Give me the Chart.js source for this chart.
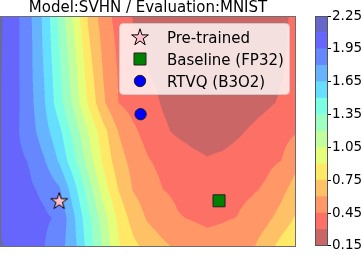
<!DOCTYPE html>
<html>
<head>
<meta charset="utf-8">
<script src="https://cdn.jsdelivr.net/npm/chart.js@4.4.1/dist/chart.umd.min.js"></script>
<style>
  html, body { margin: 0; padding: 0; background: #fff; }
  #wrap { position: relative; width: 363px; height: 255px; overflow: hidden; }
  .box { position: absolute; top: 0; height: 255px; }
</style>
</head>
<body>
<div id="wrap">
  <div class="box" style="left:0;width:297px"><canvas id="landscape"></canvas></div>
  <div class="box" style="left:312px;width:51px"><canvas id="colorbar"></canvas></div>
</div>
<script>
const chartTitle = 'Model:SVHN / Evaluation:MNIST';

// contour levels and colorbar ticks
const levels = [0.15, 0.30, 0.45, 0.60, 0.75, 0.90, 1.05, 1.20, 1.35, 1.50, 1.65, 1.80, 1.95, 2.10, 2.25];
const cbarTicks = [0.15, 0.45, 0.75, 1.05, 1.35, 1.65, 1.95, 2.25];

// loss surface sampled on a grid (rows top -> bottom)
const gridX = [-1, -0.9, -0.8, -0.7, -0.6, -0.5, -0.4, -0.3, -0.2, -0.1, 0, 0.1, 0.2, 0.3, 0.4, 0.5, 0.6, 0.7, 0.8, 0.9, 1];
const gridY = [1, 0.75, 0.5, 0.25, 0, -0.25, -0.5, -0.75, -1];
const lossGrid = [
  [2.13, 2.00, 1.83, 1.61, 1.31, 1.01, 0.72, 0.52, 0.39, 0.29, 0.25, 0.22, 0.21, 0.20, 0.19, 0.19, 0.20, 0.215, 0.24, 0.28, 0.32],
  [2.12, 2.00, 1.84, 1.62, 1.35, 1.07, 0.77, 0.56, 0.42, 0.33, 0.28, 0.24, 0.217, 0.207, 0.197, 0.19, 0.20, 0.21, 0.24, 0.28, 0.33],
  [2.11, 2.00, 1.84, 1.64, 1.38, 1.12, 0.82, 0.59, 0.44, 0.37, 0.304, 0.27, 0.235, 0.221, 0.21, 0.20, 0.205, 0.215, 0.241, 0.291, 0.34],
  [2.105, 2.00, 1.85, 1.66, 1.41, 1.16, 0.87, 0.62, 0.448, 0.39, 0.34, 0.29, 0.26, 0.238, 0.226, 0.224, 0.232, 0.244, 0.276, 0.315, 0.37],
  [2.08, 1.98, 1.87, 1.71, 1.54, 1.29, 1.04, 0.80, 0.597, 0.48, 0.39, 0.32, 0.28, 0.253, 0.236, 0.236, 0.277, 0.318, 0.359, 0.399, 0.44],
  [2.04, 1.99, 1.94, 1.81, 1.63, 1.39, 1.13, 0.86, 0.66, 0.55, 0.46, 0.41, 0.37, 0.335, 0.31, 0.33, 0.356, 0.385, 0.417, 0.448, 0.56],
  [2.02, 1.99, 1.97, 1.92, 1.82, 1.56, 1.27, 0.98, 0.745, 0.59, 0.52, 0.45, 0.423, 0.398, 0.383, 0.39, 0.403, 0.43, 0.47, 0.559, 0.66],
  [2.07, 2.04, 2.00, 1.97, 1.93, 1.67, 1.38, 1.12, 0.86, 0.69, 0.58, 0.52, 0.46, 0.44, 0.42, 0.435, 0.453, 0.51, 0.567, 0.65, 0.77],
  [2.12, 2.06, 2.00, 1.95, 1.86, 1.70, 1.43, 1.17, 0.92, 0.79, 0.70, 0.63, 0.58, 0.54, 0.51, 0.52, 0.553, 0.582, 0.674, 0.813, 0.91]
];

// model points
const pretrained = [{ x: -0.6, y: -0.6 }];
const baseline = [{ x: 0.48, y: -0.6 }];
const rtvq = [{ x: -0.05, y: 0.15 }];

Chart.defaults.font.family = "'DejaVu Sans'";
Chart.defaults.color = '#000';

// jet_r at alpha 0.6 over white, sampled at band midpoints
function jet(u) {
  const seg = pts => {
    for (let i = 1; i < pts.length; i++) {
      if (u <= pts[i][0]) {
        const [x0, y0] = pts[i - 1], [x1, y1] = pts[i];
        return y0 + (y1 - y0) * (u - x0) / (x1 - x0);
      }
    }
    return pts[pts.length - 1][1];
  };
  return [
    seg([[0, 0], [0.35, 0], [0.66, 1], [0.89, 1], [1, 0.5]]),
    seg([[0, 0], [0.125, 0], [0.375, 1], [0.64, 1], [0.91, 0], [1, 0]]),
    seg([[0, 0.5], [0.11, 1], [0.34, 1], [0.65, 0], [1, 0]])
  ];
}
const nBands = levels.length - 1;
const bandRgb = [];
for (let i = 0; i < nBands; i++) {
  bandRgb.push(jet(1 - (i + 0.5) / nBands).map(v => Math.round(255 * (0.6 * v + 0.4))));
}
const bandCss = bandRgb.map(c => `rgb(${c[0]},${c[1]},${c[2]})`);

function lossAt(x, y) {
  let i = 0;
  while (i < gridX.length - 2 && x > gridX[i + 1]) i++;
  let j = 0;
  while (j < gridY.length - 2 && y < gridY[j + 1]) j++;
  const tx = (x - gridX[i]) / (gridX[i + 1] - gridX[i]);
  const ty = (y - gridY[j]) / (gridY[j + 1] - gridY[j]);
  const top = lossGrid[j][i] * (1 - tx) + lossGrid[j][i + 1] * tx;
  const bot = lossGrid[j + 1][i] * (1 - tx) + lossGrid[j + 1][i + 1] * tx;
  return top * (1 - ty) + bot * ty;
}

function bandOf(v) {
  let k = 0;
  while (k < nBands - 1 && v >= levels[k + 1]) k++;
  return k;
}

const contourFill = {
  id: 'contourFill',
  beforeDatasetsDraw(chart) {
    const { ctx, chartArea: a, scales: { x, y } } = chart;
    const w = Math.round(a.right - a.left), h = Math.round(a.bottom - a.top);
    const off = document.createElement('canvas');
    off.width = w; off.height = h;
    const octx = off.getContext('2d');
    const img = octx.createImageData(w, h);
    const S = 3;
    for (let py = 0; py < h; py++) {
      for (let px = 0; px < w; px++) {
        let r = 0, g = 0, b = 0;
        for (let sy = 0; sy < S; sy++) {
          const yv = y.getValueForPixel(a.top + py + (sy + 0.5) / S);
          for (let sx = 0; sx < S; sx++) {
            const xv = x.getValueForPixel(a.left + px + (sx + 0.5) / S);
            const c = bandRgb[bandOf(lossAt(xv, yv))];
            r += c[0]; g += c[1]; b += c[2];
          }
        }
        const o = (py * w + px) * 4;
        img.data[o] = r / (S * S);
        img.data[o + 1] = g / (S * S);
        img.data[o + 2] = b / (S * S);
        img.data[o + 3] = 255;
      }
    }
    octx.putImageData(img, 0, 0);
    ctx.drawImage(off, a.left, a.top);
  },
  afterDraw(chart) {
    const { ctx, chartArea: a } = chart;
    ctx.save();
    ctx.strokeStyle = '#6e6e6e';
    ctx.lineWidth = 1;
    ctx.strokeRect(a.left + 0.5, a.top + 0.5, a.right - a.left - 1, a.bottom - a.top - 1);
    ctx.restore();
  }
};

const insetLegend = {
  id: 'insetLegend',
  afterDatasetsDraw(chart) {
    const { ctx, chartArea: a } = chart;
    const L = a.right - 177, T = a.top + 7, W = 170, H = 71;
    ctx.save();
    ctx.beginPath();
    ctx.roundRect(L + 0.5, T + 0.5, W, H, 4);
    ctx.fillStyle = 'rgba(255,255,255,0.8)';
    ctx.fill();
    ctx.strokeStyle = 'rgba(204,204,204,0.8)';
    ctx.lineWidth = 1;
    ctx.stroke();
    chart.data.datasets.forEach((ds, i) => {
      const cy = T + 14 + i * 22;
      ctx.fillStyle = ds.backgroundColor;
      ctx.strokeStyle = ds.borderColor;
      ctx.lineWidth = ds.borderWidth;
      Chart.helpers.drawPoint(ctx, { pointStyle: ds.pointStyle, radius: ds.pointRadius, rotation: 0, borderWidth: ds.borderWidth }, L + 21, cy);
      ctx.fillStyle = '#000';
      ctx.font = "15px 'DejaVu Sans'";
      ctx.textBaseline = 'alphabetic';
      ctx.fillText(ds.label, L + 48, cy + 5.5);
    });
    ctx.restore();
  }
};

// matplotlib-like '*' marker
function starMarker(R, fill) {
  const c = document.createElement('canvas');
  c.width = 22; c.height = 22;
  const g = c.getContext('2d');
  g.beginPath();
  for (let k = 0; k < 10; k++) {
    const rr = k % 2 ? R * 0.382 : R;
    const ang = -Math.PI / 2 + k * Math.PI / 5;
    const px = 11 + rr * Math.cos(ang), py = 11.6 + rr * Math.sin(ang);
    k ? g.lineTo(px, py) : g.moveTo(px, py);
  }
  g.closePath();
  g.fillStyle = fill;
  g.fill();
  g.strokeStyle = '#000';
  g.lineWidth = 1;
  g.stroke();
  return c;
}

new Chart(document.getElementById('landscape'), {
  type: 'scatter',
  data: {
    datasets: [
      { label: 'Pre-trained', data: pretrained, pointStyle: starMarker(8.8, '#ffc0cb'), pointRadius: 9, backgroundColor: '#ffc0cb', borderColor: '#000', borderWidth: 1 },
      { label: 'Baseline (FP32)', data: baseline, pointStyle: 'rect', pointRadius: 8.5, backgroundColor: '#008000', borderColor: '#222', borderWidth: 1 },
      { label: 'RTVQ (B3O2)', data: rtvq, pointStyle: 'circle', pointRadius: 5.7, backgroundColor: '#0000ff', borderColor: '#222', borderWidth: 1 }
    ]
  },
  options: {
    animation: false,
    responsive: true,
    maintainAspectRatio: false,
    layout: { autoPadding: false, padding: { left: 0, right: 1, top: 0, bottom: 8 } },
    scales: {
      x: { type: 'linear', min: -1, max: 1, display: false },
      y: { type: 'linear', min: -1, max: 1, display: false }
    },
    plugins: {
      legend: { display: false },
      tooltip: { enabled: false },
      title: {
        display: true,
        text: chartTitle,
        color: '#000',
        font: { size: 15, weight: 'normal', lineHeight: '15px' },
        padding: { top: 1, bottom: 0 }
      }
    }
  },
  plugins: [contourFill, insetLegend]
});

const cbarOutline = {
  id: 'cbarOutline',
  afterDatasetsDraw(chart) {
    const { ctx, chartArea: a } = chart;
    ctx.save();
    ctx.strokeStyle = '#555';
    ctx.lineWidth = 1;
    ctx.strokeRect(Math.round(a.left) + 0.5, Math.round(a.top) + 0.5, Math.round(a.right - a.left) - 1, Math.round(a.bottom - a.top) - 1);
    ctx.restore();
  }
};

new Chart(document.getElementById('colorbar'), {
  type: 'bar',
  data: {
    labels: [''],
    datasets: bandCss.map((col, i) => ({
      data: [[levels[i], levels[i + 1]]],
      backgroundColor: col,
      borderWidth: 0,
      grouped: false,
      barPercentage: 1,
      categoryPercentage: 1
    }))
  },
  options: {
    animation: false,
    responsive: true,
    maintainAspectRatio: false,
    layout: { autoPadding: false, padding: { left: 3, right: 0, top: 16, bottom: 8 } },
    plugins: { legend: { display: false }, tooltip: { enabled: false } },
    scales: {
      x: { display: false },
      y: {
        position: 'right',
        min: levels[0],
        max: levels[levels.length - 1],
        afterBuildTicks: s => { s.ticks = cbarTicks.map(v => ({ value: v })); },
        afterFit: s => { s.width = 35; },
        ticks: { color: '#000', padding: 1, font: { size: 13.5 }, callback: v => v.toFixed(2) },
        grid: { drawOnChartArea: false, tickLength: 3, color: '#000' },
        border: { display: false }
      }
    }
  },
  plugins: [cbarOutline]
});
</script>
</body>
</html>
